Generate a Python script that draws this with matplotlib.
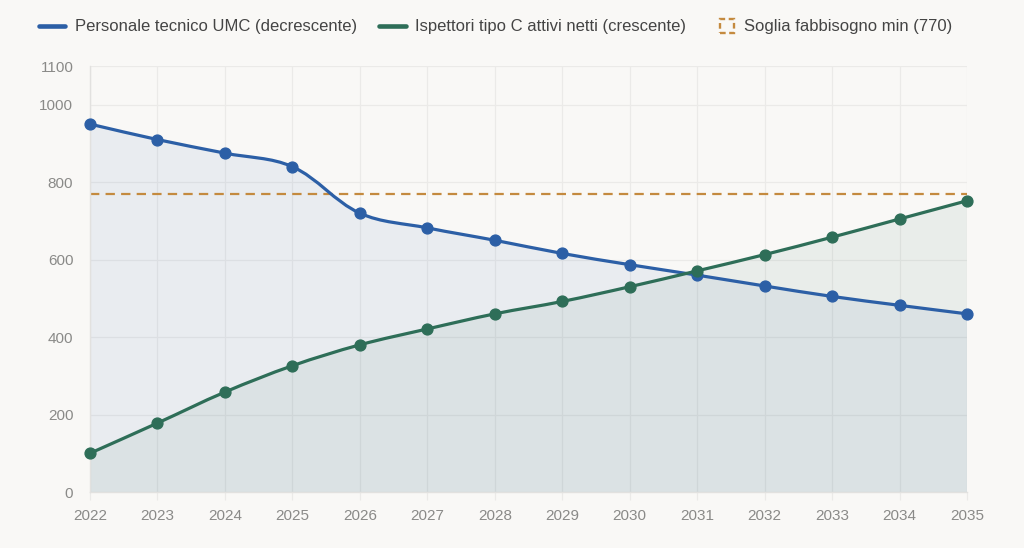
import numpy as np
import matplotlib
matplotlib.use("Agg")
import matplotlib.pyplot as plt
from matplotlib.path import Path
from matplotlib.patches import PathPatch, Rectangle, Patch
from matplotlib.lines import Line2D
from matplotlib.legend_handler import HandlerPatch

years = [2022, 2023, 2024, 2025, 2026, 2027, 2028, 2029, 2030, 2031, 2032, 2033, 2034, 2035]
personale_umc = [950, 910, 875, 840, 720, 682, 650, 616, 587, 560, 532, 505, 482, 460]
ispettori_c = [100, 178, 258, 326, 380, 421, 460, 492, 530, 571, 613, 658, 705, 752]
soglia = 770

labels = ["Personale tecnico UMC (decrescente)",
          "Ispettori tipo C attivi netti (crescente)",
          "Soglia fabbisogno min (770)"]

BG = "#f9f8f6"
BLUE = "#2c5fa6"
GREEN = "#2e6e58"
GOLD = "#c48a3f"
GRID = "#ebeae8"
TICK = "#8a8a88"

plt.rcParams["font.family"] = ["Liberation Sans", "DejaVu Sans"]


def bezier_path(xs, ys, sx, sy, tension=0.35):
    # chart.js style spline: control points worked out in pixel space
    px = np.asarray(xs, float) * sx
    py = np.asarray(ys, float) * sy
    n = len(px)
    cp_prev = [None] * n
    cp_next = [None] * n
    for i in range(n):
        p0 = (px[max(i - 1, 0)], py[max(i - 1, 0)])
        p1 = (px[i], py[i])
        p2 = (px[min(i + 1, n - 1)], py[min(i + 1, n - 1)])
        d01 = np.hypot(p1[0] - p0[0], p1[1] - p0[1])
        d12 = np.hypot(p2[0] - p1[0], p2[1] - p1[1])
        tot = d01 + d12
        s01 = d01 / tot if tot else 0
        s12 = d12 / tot if tot else 0
        fa, fb = tension * s01, tension * s12
        cp_prev[i] = (p1[0] - fa * (p2[0] - p0[0]), p1[1] - fa * (p2[1] - p0[1]))
        cp_next[i] = (p1[0] + fb * (p2[0] - p0[0]), p1[1] + fb * (p2[1] - p0[1]))
    verts = [(px[0], py[0])]
    codes = [Path.MOVETO]
    for i in range(1, n):
        verts += [cp_next[i - 1], cp_prev[i], (px[i], py[i])]
        codes += [Path.CURVE4] * 3
    verts = [(v[0] / sx, v[1] / sy) for v in verts]
    return verts, codes


fig = plt.figure(figsize=(10.24, 5.48), dpi=100, facecolor=BG)
ax = fig.add_axes([90 / 1024, 56 / 548, 877 / 1024, 426 / 548])
ax.set_facecolor(BG)

sx = 877 / 13.0      # px per year
sy = 426 / 1100.0    # px per unit

for vals, col in [(personale_umc, BLUE), (ispettori_c, GREEN)]:
    verts, codes = bezier_path(years, vals, sx, sy)
    line_path = Path(verts, codes)
    fill_verts = verts + [(years[-1], 0), (years[0], 0), verts[0]]
    fill_codes = codes + [Path.LINETO, Path.LINETO, Path.CLOSEPOLY]
    ax.add_patch(PathPatch(Path(fill_verts, fill_codes), facecolor=col, alpha=0.075,
                           edgecolor="none", zorder=1))
    ax.add_patch(PathPatch(line_path, facecolor="none", edgecolor=col, lw=2.3,
                           capstyle="round", joinstyle="round", zorder=3))
    ax.plot(years, vals, "o", color=col, markersize=7.8, zorder=4, clip_on=False)

ax.plot([years[0], years[-1]], [soglia, soglia], color=GOLD, lw=1.6,
        dashes=(4.2, 2.8), zorder=2)

ax.set_xlim(years[0], years[-1])
ax.set_ylim(0, 1100)
ax.set_xticks(years)
ax.set_yticks([0, 200, 400, 600, 800, 1000, 1100])
ax.grid(True, color=GRID, lw=0.9, zorder=0)
ax.set_axisbelow(True)
for side in ["top", "right"]:
    ax.spines[side].set_visible(False)
for side in ["left", "bottom"]:
    ax.spines[side].set_color("#e2e1df")
    ax.spines[side].set_linewidth(1.0)
ax.tick_params(axis="x", length=6, color=GRID, width=0.9, pad=6, labelsize=11, labelcolor=TICK)
ax.tick_params(axis="y", length=0, pad=12, labelsize=11, labelcolor=TICK)


class HandlerSquare(HandlerPatch):
    def create_artists(self, legend, orig_handle, xdescent, ydescent, width, height,
                       fontsize, trans):
        s = 14 * 72 / 100.0
        r = Rectangle((width - s - xdescent - 1, -ydescent + (height - s) / 2), s, s,
                      facecolor="none", edgecolor=GOLD, lw=1.7, linestyle=(0, (2.4, 1.5)),
                      transform=trans)
        return [r]


handles = [Line2D([], [], color=BLUE, lw=3.3, solid_capstyle="round"),
           Line2D([], [], color=GREEN, lw=3.3, solid_capstyle="round"),
           Patch(facecolor="none", edgecolor=GOLD)]
leg = fig.legend(handles, labels, loc="center", bbox_to_anchor=(0.484, 1 - 27 / 548),
                 ncol=3, frameon=False, fontsize=12, handlelength=1.6, handletextpad=0.55,
                 columnspacing=1.35, handler_map={Patch: HandlerSquare()})
for t in leg.get_texts():
    t.set_color("#444444")

fig.savefig("out.png", dpi=100, facecolor=BG)
